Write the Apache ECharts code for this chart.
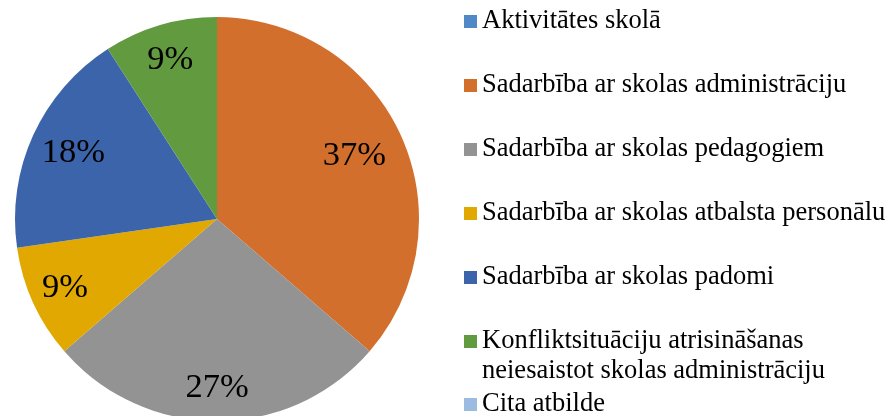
<!DOCTYPE html>
<html>
<head>
<meta charset="utf-8">
<script src="https://cdn.jsdelivr.net/npm/echarts@6/dist/echarts.min.js"></script>
<style>
html,body{margin:0;padding:0;background:#fff;}
#chart{width:892px;height:416px;}
</style>
</head>
<body>
<div id="chart"></div>
<script>
// ---- data ----
var categories = [
  'Aktivitātes skolā',
  'Sadarbība ar skolas administrāciju',
  'Sadarbība ar skolas pedagogiem',
  'Sadarbība ar skolas atbalsta personālu',
  'Sadarbība ar skolas padomi',
  'Konfliktsituāciju atrisināšanas neiesaistot skolas administrāciju',
  'Cita atbilde'
];
// slice sizes (respondent counts)
var counts = [0, 4, 3, 1, 2, 1, 0];
// percentages printed on the slices
var shownPercent = [0, 37, 27, 9, 18, 9, 0];
var colors = ['#5089C6', '#D36F2D', '#939393', '#E0A800', '#3C64AB', '#629A40', '#9BBBE1'];

// ---- layout ----
var center = [217, 219];
var R = 202;
var labelRadius = [null, 148, 166, 164, 155, 163, null];
var serif = 'Liberation Serif, Times New Roman, serif';
var legendCenters = [21.5, 85.5, 149.5, 213.5, 277.5, 341.5, 404.5];
var legendLineH = 30;

var seriesData = categories.map(function (n, i) {
  return { name: n, value: counts[i], itemStyle: { color: colors[i] } };
});

var series = [{
  type: 'pie',
  center: center,
  radius: R,
  startAngle: 90,
  clockwise: true,
  avoidLabelOverlap: false,
  silent: true,
  label: { show: false },
  labelLine: { show: false },
  itemStyle: { borderWidth: 0 },
  emphasis: { disabled: true },
  data: seriesData
}];

// transparent overlays used only to place each percentage label at its own radius
counts.forEach(function (v, i) {
  if (!v) return;
  var lr = labelRadius[i];
  series.push({
    type: 'pie',
    center: center,
    radius: [2 * lr - R, R],
    startAngle: 90,
    clockwise: true,
    avoidLabelOverlap: false,
    silent: true,
    emphasis: { disabled: true },
    labelLine: { show: false },
    itemStyle: { color: 'rgba(0,0,0,0)', borderWidth: 0 },
    data: categories.map(function (n, j) {
      return {
        name: n,
        value: counts[j],
        label: {
          show: j === i,
          position: 'inside',
          formatter: shownPercent[j] + '%',
          color: '#000',
          fontFamily: serif,
          fontSize: 34.5
        }
      };
    })
  });
});

var legends = categories.map(function (n, i) {
  var multi = n.indexOf('neiesaistot') > 0;
  var blockH = multi ? legendLineH * 3 : legendLineH;
  return {
    data: [n],
    orient: 'vertical',
    left: 464,
    top: legendCenters[i] - blockH / 2,
    padding: 0,
    icon: 'rect',
    itemWidth: 13,
    itemHeight: 13,
    selectedMode: false,
    formatter: function (name) {
      // leading empty line keeps the marker level with the first text line
      return multi ? '\n' + name.replace(' neiesaistot', '\nneiesaistot') : name;
    },
    textStyle: {
      fontFamily: serif,
      fontSize: 26.5,
      color: '#000',
      lineHeight: legendLineH
    }
  };
});

var chart = echarts.init(document.getElementById('chart'), null, { renderer: 'canvas' });
chart.setOption({
  animation: false,
  color: colors,
  legend: legends,
  series: series
});
</script>
</body>
</html>
